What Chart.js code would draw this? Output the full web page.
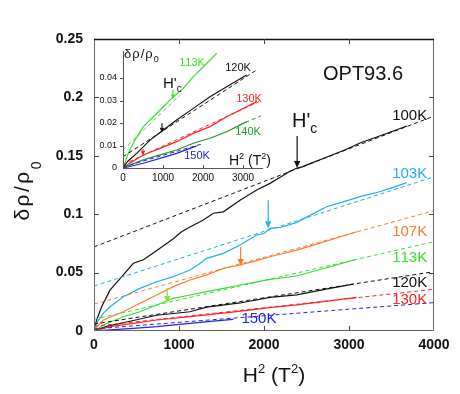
<!DOCTYPE html>
<html>
<head>
<meta charset="utf-8">
<script src="https://cdn.jsdelivr.net/npm/chart.js@4"></script>
<style>
html, body { margin: 0; padding: 0; background: #fff; }
#wrap { position: relative; width: 460px; height: 394px; }
#wrap canvas { position: absolute; left: 0; top: 0; }
</style>
</head>
<body>
<div id="wrap">
<canvas id="mainChart" width="460" height="394"></canvas>
<canvas id="insetChart" width="460" height="394"></canvas>
</div>
<script>
// main panel: H^2 (T^2) against delta rho / rho0
const main100K = [[0,0],[31,0.0094],[90,0.0208],[188,0.035],[345,0.048],[463,0.058],[580,0.061],[680,0.066],[776,0.0708],[933,0.079],[1030,0.085],[1129,0.089],[1286,0.095],[1404,0.1008],[1522,0.102],[1620,0.107],[1718,0.112],[1914,0.1207],[2070,0.1264],[2200,0.132],[2300,0.1365],[2388,0.1395],[2450,0.1405],[2550,0.1435],[2741,0.149],[2950,0.155],[3129,0.161],[3400,0.168],[3682,0.1755]];
const fit100K = [[0,0.072],[4000,0.184]];
const main103K = [[0,0],[40,0.008],[110,0.0151],[188,0.0208],[345,0.0294],[541,0.0365],[737,0.0422],[933,0.0465],[1129,0.0522],[1230,0.057],[1325,0.0622],[1522,0.0665],[1718,0.0736],[1914,0.0822],[2000,0.0835],[2070,0.0879],[2200,0.0888],[2388,0.093],[2500,0.0975],[2737,0.1064],[2950,0.111],[3129,0.115],[3350,0.119],[3521,0.123],[3679,0.127]];
const fit103K = [[0,0.0385],[4000,0.132]];
const main107K = [[0,0],[40,0.004],[110,0.0094],[345,0.0165],[541,0.0237],[737,0.0308],[933,0.038],[1129,0.0437],[1325,0.048],[1522,0.0536],[1718,0.0565],[1900,0.060],[2070,0.0636],[2384,0.0693],[2600,0.074],[2776,0.0779],[3090,0.085]];
const fit107K = [[0,0.023],[4000,0.103]];
const main113K = [[0,0],[110,0.0051],[345,0.0122],[541,0.0165],[737,0.0223],[933,0.028],[1129,0.0308],[1325,0.0337],[1522,0.0365],[1718,0.0394],[2070,0.0442],[2384,0.0471],[2776,0.055],[3090,0.0614]];
const fit113K = [[0,0.010],[4000,0.0765]];
const main120K = [[0,0],[150,0.004],[463,0.009],[737,0.0135],[1129,0.0165],[1325,0.0205],[1718,0.024],[2070,0.0288],[2384,0.031],[2776,0.0365],[3051,0.0402]];
const fit120K = [[0,0.006],[4000,0.0508]];
const main130K = [[0,0],[188,0.0037],[463,0.0066],[737,0.0094],[1129,0.0123],[1600,0.016],[2070,0.02],[2384,0.0223],[2750,0.0255],[3090,0.0288]];
const fit130K = [[0,0.004],[4000,0.0357]];
const main150K = [[0,0],[188,0.001],[463,0.0023],[737,0.0037],[1129,0.0066],[1400,0.0085],[1639,0.01]];
const fit150K = [[0,0.0018],[4000,0.0243]];

// inset panel
const inset113K = [[0,0],[133,0.0065],[300,0.0124],[508,0.0184],[758,0.0228],[1008,0.0272],[1258,0.0317],[1508,0.0354],[1758,0.0406],[2008,0.045],[2342,0.051]];
const insetFit113K = [[0,0.008],[1400,0.032]];
const inset120K = [[0,0],[120,0.003],[342,0.0065],[675,0.0124],[1008,0.0169],[1342,0.0213],[1758,0.0265],[2175,0.0317],[2592,0.0361],[3092,0.0413]];
const insetFit120K = [[0,0.005],[3342,0.0436]];
const inset130K = [[0,0],[200,0.0025],[508,0.0058],[925,0.0087],[1342,0.0117],[1758,0.0154],[2175,0.0184],[2592,0.0228],[3092,0.0272],[3342,0.0295]];
const insetFit130K = [[0,0.0015],[3400,0.0295]];
const inset140K = [[0,0],[200,0.0015],[508,0.0036],[925,0.0058],[1342,0.008],[1758,0.011],[2175,0.0132],[2592,0.0161],[3092,0.0206]];
const insetFit140K = [[2900,0.019],[3450,0.0232]];
const inset150K = [[0,0],[508,0.0021],[925,0.0043],[1342,0.0065],[1675,0.0087],[1842,0.0098]];
const insetFit150K = [[0,0.0005],[2000,0.0108]];

const mainXTicks = [0, 1000, 2000, 3000, 4000];
const mainYTicks = [0, 0.05, 0.1, 0.15, 0.2, 0.25];
const insetXTicks = [0, 1000, 2000, 3000];
const insetYTicks = [0, 0.01, 0.02, 0.03, 0.04];

const FONT = "Arial, 'Liberation Sans', Helvetica, sans-serif";
const C_BLACK = "#111111";
const C_CYAN = "#1fb0e8";
const C_ORANGE = "#ff7a2a";
const C_GREEN = "#33e033";
const C_RED = "#ff2424";
const C_DKGREEN = "#1f9a2c";
const C_BLUE = "#2424dd";
const C_LTGREEN = "#8adf3a";

function toXY(pts) {
    return pts.map(p => ({ x: p[0], y: p[1] }));
}
function solid(pts, color) {
    return { data: toXY(pts), showLine: true, borderColor: color, borderWidth: 1.2, pointRadius: 0, fill: false };
}
function dashed(pts, color) {
    return { data: toXY(pts), showLine: true, borderColor: color, borderWidth: 1, borderDash: [4, 3], pointRadius: 0, fill: false };
}

// text with mixed sizes (sub/superscripts), ls = letter spacing
function richWidth(ctx, parts) {
    let w = 0;
    parts.forEach(p => {
        ctx.font = p.font;
        for (const ch of p.t) w += ctx.measureText(ch).width + (p.ls || 0);
    });
    return w;
}
function drawRich(ctx, parts, x, y, align) {
    const w = richWidth(ctx, parts);
    let cx = align === "center" ? x - w / 2 : (align === "right" ? x - w : x);
    ctx.textAlign = "left";
    parts.forEach(p => {
        ctx.font = p.font;
        for (const ch of p.t) {
            ctx.fillText(ch, cx, y + (p.dy || 0));
            cx += ctx.measureText(ch).width + (p.ls || 0);
        }
    });
}
function drawArrow(ctx, px, y1, y2, color, head) {
    ctx.strokeStyle = color;
    ctx.fillStyle = color;
    ctx.lineWidth = 1.2;
    ctx.beginPath();
    ctx.moveTo(px, y1);
    ctx.lineTo(px, y2 - head);
    ctx.stroke();
    ctx.beginPath();
    ctx.moveTo(px - head * 0.45, y2 - head);
    ctx.lineTo(px + head * 0.45, y2 - head);
    ctx.lineTo(px, y2);
    ctx.closePath();
    ctx.fill();
}
function seg(ctx, x1, y1, x2, y2) {
    ctx.beginPath();
    ctx.moveTo(x1, y1);
    ctx.lineTo(x2, y2);
    ctx.stroke();
}

const mainLabels = [
    { t: "100K", x: 3920, y: 0.184, color: C_BLACK, align: "right" },
    { t: "103K", x: 3920, y: 0.1344, color: C_CYAN, align: "right" },
    { t: "107K", x: 3920, y: 0.0848, color: C_ORANGE, align: "right" },
    { t: "113K", x: 3920, y: 0.0629, color: C_GREEN, align: "right" },
    { t: "120K", x: 3920, y: 0.0411, color: C_BLACK, align: "right" },
    { t: "130K", x: 3920, y: 0.0265, color: C_RED, align: "right" },
    { t: "150K", x: 1940, y: 0.0103, color: C_BLUE, align: "center" }
];
const mainArrows = [
    { x: 2390, from: 0.167, to: 0.1395, color: C_BLACK },
    { x: 2050, from: 0.112, to: 0.088, color: C_CYAN },
    { x: 1725, from: 0.072, to: 0.0557, color: C_ORANGE },
    { x: 862, from: 0.0368, to: 0.024, color: C_LTGREEN }
];
const insetLabels = [
    { t: "113K", x: 1725, y: 0.0469, color: C_GREEN },
    { t: "120K", x: 2875, y: 0.0445, color: C_BLACK },
    { t: "130K", x: 3150, y: 0.0305, color: C_RED },
    { t: "140K", x: 3125, y: 0.0159, color: C_DKGREEN },
    { t: "150K", x: 1850, y: 0.0053, color: C_BLUE }
];
const insetArrows = [
    { x: 1250, from: 0.0348, to: 0.0305, color: C_GREEN },
    { x: 975, from: 0.0199, to: 0.0157, color: C_BLACK },
    { x: 500, from: 0.0085, to: 0.0055, color: C_RED }
];

const mainDecor = {
    id: "mainDecor",
    afterDatasetsDraw(chart) {
        const { ctx, chartArea: a, scales: { x, y } } = chart;
        ctx.save();
        // frame
        ctx.strokeStyle = "#666";
        ctx.lineWidth = 1;
        seg(ctx, a.left + 0.5, a.top, a.left + 0.5, a.bottom);
        seg(ctx, a.right - 0.5, a.top, a.right - 0.5, a.bottom);
        seg(ctx, a.left, a.bottom - 0.5, a.right, a.bottom - 0.5);
        ctx.strokeStyle = "#111";
        ctx.lineWidth = 1.5;
        seg(ctx, a.left, a.top + 0.5, a.right, a.top + 0.5);
        // inward ticks
        ctx.strokeStyle = "#444";
        ctx.lineWidth = 1;
        mainXTicks.slice(1, -1).forEach(v => {
            const px = Math.round(x.getPixelForValue(v)) + 0.5;
            seg(ctx, px, a.bottom, px, a.bottom - 5);
            seg(ctx, px, a.top, px, a.top + 5);
        });
        mainYTicks.slice(1, -1).forEach(v => {
            const py = Math.round(y.getPixelForValue(v)) + 0.5;
            seg(ctx, a.left, py, a.left + 5, py);
            seg(ctx, a.right, py, a.right - 5, py);
        });
        // arrows
        mainArrows.forEach(ar => {
            drawArrow(ctx, x.getPixelForValue(ar.x), y.getPixelForValue(ar.from), y.getPixelForValue(ar.to), ar.color, 7);
        });
        // curve labels
        ctx.textBaseline = "middle";
        mainLabels.forEach(l => {
            ctx.fillStyle = l.color;
            drawRich(ctx, [{ t: l.t, font: "15px " + FONT }], x.getPixelForValue(l.x), y.getPixelForValue(l.y), l.align);
        });
        ctx.textBaseline = "alphabetic";
        ctx.fillStyle = "#111";
        drawRich(ctx, [{ t: "OPT93.6", font: "20px " + FONT }], x.getPixelForValue(3165), y.getPixelForValue(0.2209) + 7, "center");
        drawRich(ctx, [{ t: "H'", font: "20px " + FONT }, { t: "c", font: "14px " + FONT, dy: 6 }],
            x.getPixelForValue(2330), y.getPixelForValue(0.1747), "left");
        // axis titles
        drawRich(ctx, [
            { t: "H", font: "21px " + FONT },
            { t: "2", font: "13px " + FONT, dy: -9 },
            { t: " (T", font: "21px " + FONT },
            { t: "2", font: "13px " + FONT, dy: -9 },
            { t: ")", font: "21px " + FONT }
        ], 274, 382, "center");
        ctx.translate(29, 191);
        ctx.rotate(-Math.PI / 2);
        drawRich(ctx, [
            { t: "δρ/ρ", font: "21px " + FONT, ls: 2.5 },
            { t: "0", font: "14px " + FONT, dy: 12 }
        ], 0, 0, "center");
        ctx.restore();
    }
};

const insetDecor = {
    id: "insetDecor",
    afterDatasetsDraw(chart) {
        const { ctx, chartArea: a, scales: { x, y } } = chart;
        ctx.save();
        ctx.strokeStyle = "#555";
        ctx.lineWidth = 1;
        seg(ctx, a.left + 0.5, a.top, a.left + 0.5, a.bottom);
        seg(ctx, a.left, a.bottom + 0.5, a.right, a.bottom + 0.5);
        insetYTicks.slice(1).forEach(v => {
            const py = Math.round(y.getPixelForValue(v)) + 0.5;
            seg(ctx, a.left, py, a.left - 3, py);
        });
        insetXTicks.slice(1).forEach(v => {
            const px = Math.round(x.getPixelForValue(v)) + 0.5;
            seg(ctx, px, a.bottom, px, a.bottom - 3);
        });
        insetArrows.forEach(ar => {
            drawArrow(ctx, x.getPixelForValue(ar.x), y.getPixelForValue(ar.from), y.getPixelForValue(ar.to), ar.color, 5);
        });
        ctx.textBaseline = "middle";
        insetLabels.forEach(l => {
            ctx.fillStyle = l.color;
            drawRich(ctx, [{ t: l.t, font: "11px " + FONT }], x.getPixelForValue(l.x), y.getPixelForValue(l.y), "center");
        });
        ctx.textBaseline = "alphabetic";
        ctx.fillStyle = "#111";
        drawRich(ctx, [{ t: "H'", font: "15px " + FONT }, { t: "c", font: "10px " + FONT, dy: 4 }],
            x.getPixelForValue(1000), y.getPixelForValue(0.0354), "left");
        drawRich(ctx, [
            { t: "H", font: "14px " + FONT },
            { t: "2", font: "9px " + FONT, dy: -6 },
            { t: " (T", font: "14px " + FONT },
            { t: "2", font: "9px " + FONT, dy: -6 },
            { t: ")", font: "14px " + FONT }
        ], x.getPixelForValue(2650), a.bottom - 3, "left");
        drawRich(ctx, [
            { t: "δρ/ρ", font: "13px " + FONT, ls: 1 },
            { t: "0", font: "9px " + FONT, dy: 4 }
        ], a.left + 1, a.top + 7, "left");
        ctx.restore();
    }
};

function linScale(ticks, min, max, fit, tickFont, pad) {
    return {
        type: "linear", min: min, max: max,
        afterBuildTicks: s => { s.ticks = ticks.map(v => ({ value: v })); },
        afterFit: fit,
        grid: { display: false, drawTicks: false },
        border: { display: false },
        ticks: { padding: pad, color: "#111", font: tickFont, maxRotation: 0, autoSkip: false, callback: v => String(v) }
    };
}

new Chart(document.getElementById("mainChart"), {
    type: "scatter",
    data: {
        datasets: [
            dashed(fit100K, C_BLACK), dashed(fit103K, C_CYAN), dashed(fit107K, C_ORANGE),
            dashed(fit113K, C_GREEN), dashed(fit120K, C_BLACK), dashed(fit130K, C_RED), dashed(fit150K, C_BLUE),
            solid(main150K, C_BLUE), solid(main130K, C_RED), solid(main120K, C_BLACK), solid(main113K, C_GREEN),
            solid(main107K, C_ORANGE), solid(main103K, C_CYAN), solid(main100K, C_BLACK)
        ]
    },
    options: {
        responsive: false,
        animation: false,
        devicePixelRatio: 1,
        layout: { padding: { left: 0, top: 39, right: 26, bottom: 0 } },
        plugins: { legend: { display: false }, tooltip: { enabled: false } },
        scales: {
            x: linScale(mainXTicks, 0, 4000, s => { s.height = 63; }, { family: FONT, size: 14, weight: "bold" }, 6),
            y: linScale(mainYTicks, 0, 0.25, s => { s.width = 94; }, { family: FONT, size: 14, weight: "bold" }, 11)
        }
    },
    plugins: [mainDecor]
});

new Chart(document.getElementById("insetChart"), {
    type: "scatter",
    data: {
        datasets: [
            dashed(insetFit113K, C_GREEN), dashed(insetFit120K, C_BLACK), dashed(insetFit130K, C_RED),
            dashed(insetFit140K, C_DKGREEN), dashed(insetFit150K, C_BLUE),
            solid(inset150K, C_BLUE), solid(inset140K, C_DKGREEN), solid(inset130K, C_RED),
            solid(inset120K, C_BLACK), solid(inset113K, C_GREEN)
        ]
    },
    options: {
        responsive: false,
        animation: false,
        devicePixelRatio: 1,
        layout: { padding: { left: 0, top: 51, right: 197, bottom: 0 } },
        plugins: { legend: { display: false }, tooltip: { enabled: false } },
        scales: {
            x: linScale(insetXTicks, 0, 3500, s => { s.height = 226; }, { family: FONT, size: 10 }, 4),
            y: linScale(insetYTicks, 0, 0.052, s => { s.width = 123; }, { family: FONT, size: 9 }, 6)
        }
    },
    plugins: [insetDecor]
});
</script>
</body>
</html>
